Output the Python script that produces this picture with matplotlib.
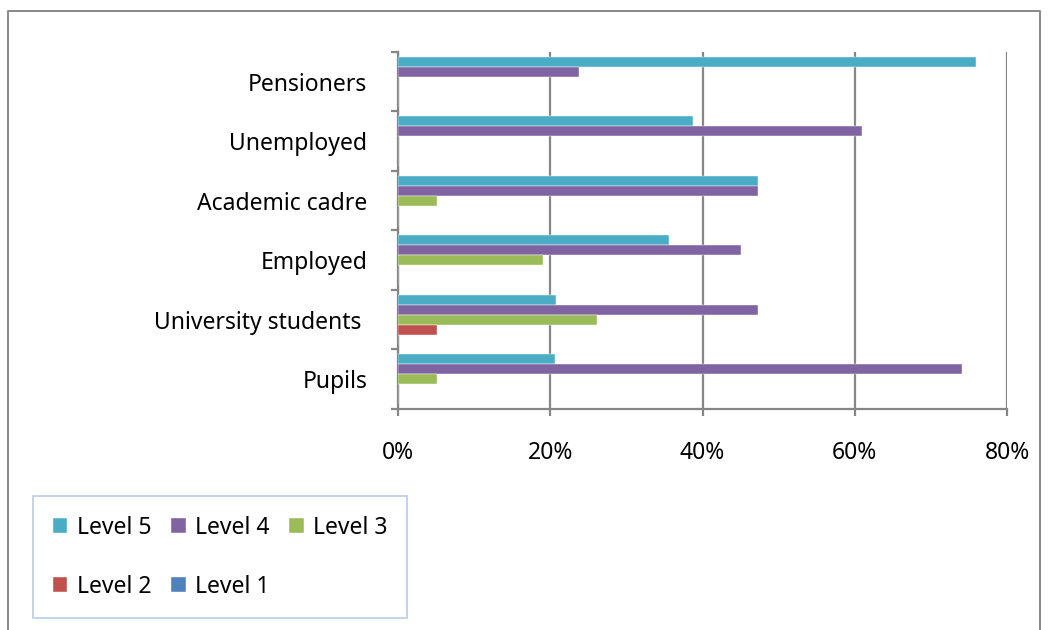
import matplotlib.pyplot as plt
import numpy as np
from matplotlib.lines import Line2D
from matplotlib.ticker import FuncFormatter

FONT_SIZE = 16.5
plt.rcParams.update({'font.size': FONT_SIZE, 'font.family': ['Noto Sans', 'DejaVu Sans']})

# Groups, bottom to top
groups = ['Pupils', 'University students ', 'Employed', 'Academic cadre', 'Unemployed', 'Pensioners']

# Share of each level per group, %
level5 = [20.6, 20.8, 35.6, 47.3, 38.7, 75.9]
level4 = [74.1, 47.3, 45.0, 47.3, 61.0, 23.8]
level3 = [5.1, 26.1, 19.0, 5.1, 0.0, 0.0]
level2 = [0.0, 5.1, 0.0, 0.0, 0.0, 0.0]
level1 = [0.0, 0.0, 0.0, 0.0, 0.0, 0.0]

series = [
    ('Level 5', level5, '#4BACC6'),
    ('Level 4', level4, '#8064A2'),
    ('Level 3', level3, '#9BBB59'),
    ('Level 2', level2, '#C0504D'),
    ('Level 1', level1, '#4F81BD'),
]

GRAY = '#868686'

fig = plt.figure(figsize=(10.49, 6.30), dpi=100)
ax = fig.add_axes([0.3794, 0.3508, 0.5806, 0.5667])

y = np.arange(len(groups))
h = 0.168
handles = {}
for i, (name, vals, color) in enumerate(series):
    offset = (2 - i) * h
    bars = ax.barh(y + offset, vals, height=h, color=color, edgecolor='white',
                   linewidth=0.3, label=name, zorder=3)
    handles[name] = bars

ax.set_xlim(0, 80)
ax.set_ylim(-0.5, len(groups) - 0.5)
ax.set_xticks([0, 20, 40, 60, 80])
ax.xaxis.set_major_formatter(FuncFormatter(lambda v, _: f'{v:.0f}%'))
ax.grid(axis='x', color=GRAY, linewidth=1.6, zorder=1)

# category boundaries get tick marks, names sit in between
ax.set_yticks(np.arange(-0.5, len(groups), 1.0))
ax.set_yticklabels([])
ax.set_yticks(y, minor=True)
ax.set_yticklabels(groups, minor=True)
ax.tick_params(axis='y', which='major', direction='out', length=5, width=1.6, color=GRAY)
ax.tick_params(axis='y', which='minor', length=0, pad=22)
ax.tick_params(axis='x', direction='out', length=5, width=1.6, color=GRAY, pad=18)

for side in ['top', 'right']:
    ax.spines[side].set_visible(False)
for side in ['left', 'bottom']:
    ax.spines[side].set_color(GRAY)
    ax.spines[side].set_linewidth(1.6)

order = ['Level 5', 'Level 2', 'Level 4', 'Level 1', 'Level 3']
leg = fig.legend([handles[n] for n in order], order, ncol=3,
                 loc='upper left', bbox_to_anchor=(0.0315, 0.2125),
                 frameon=True, fancybox=False, edgecolor='#A9BFE6',
                 handlelength=0.65, handleheight=0.65, handletextpad=0.4,
                 columnspacing=0.85, labelspacing=1.54, borderpad=0.85,
                 borderaxespad=0)
leg.get_frame().set_linewidth(1.2)

# outer chart frame
fig.add_artist(Line2D([0.0076, 0.0076, 0.9915, 0.9915], [0.0, 0.9825, 0.9825, 0.0],
                      color='#898989', linewidth=1.4, transform=fig.transFigure))

plt.savefig('out.png', dpi=100)
